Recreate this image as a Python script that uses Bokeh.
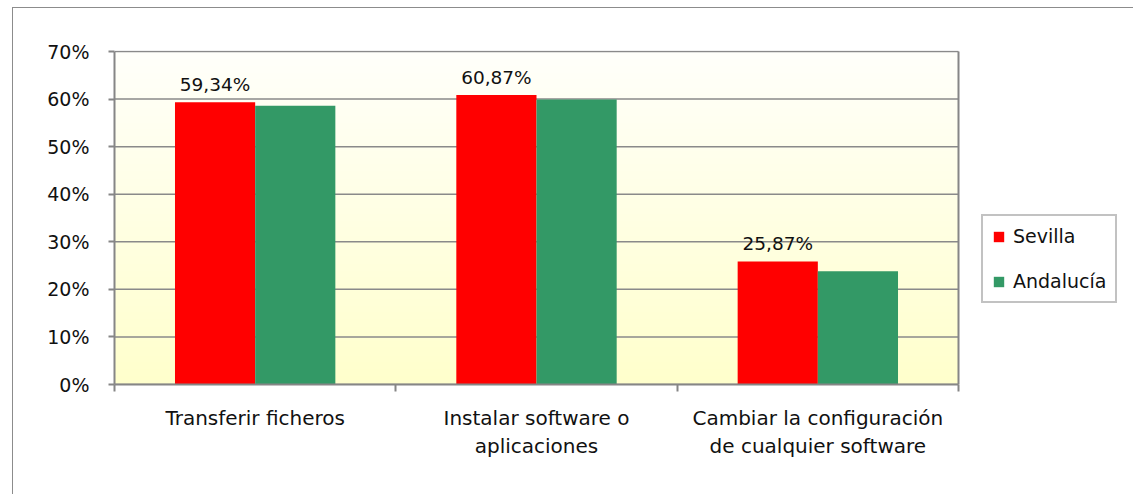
import numpy as np
from bokeh.plotting import figure
from bokeh.models import (ColumnDataSource, Range1d, FixedTicker, Legend, LegendItem, InlineStyleSheet)
from bokeh.core.properties import value
from bokeh.embed import file_html
from bokeh.resources import INLINE

categories = ["Transferir ficheros", "Instalar software o\naplicaciones",
              "Cambiar la configuración\nde cualquier software"]
sevilla = [59.34, 60.87, 25.87]
andalucia = [58.6, 59.9, 23.8]
sevilla_labels = ["59,34%", "60,87%", "25,87%"]
y_ticks = [0, 10, 20, 30, 40, 50, 60, 70]
y_tick_labels = ["0%", "10%", "20%", "30%", "40%", "50%", "60%", "70%"]

FONT = "DejaVu Sans"
W, H = 1117, 478
FL, FT, FB = 114, 50, 384
PLOT_R = 958                      # right edge of the plot area (px)
NCAT = len(categories)
YMAX = 70
x_end = NCAT * (W - FL) / (PLOT_R - FL)
y_end = YMAX * (FB - FT) / (FB - 51)

xc = np.arange(NCAT) + 0.5
bw = 0.285
src = ColumnDataSource(dict(
    xs=xc - bw / 2, xa=xc + bw / 2, sev=sevilla, anda=andalucia, lab=sevilla_labels))

p = figure(width=W, height=H, output_backend="svg", toolbar_location=None,
           x_range=Range1d(0, x_end), y_range=Range1d(0, y_end),
           min_border_left=FL, min_border_right=0,
           min_border_top=FT, min_border_bottom=H - FB)
p.background_fill_color = "white"
p.border_fill_color = "white"
p.outline_line_color = None
p.stylesheets = [InlineStyleSheet(css=(
    ":host::after{content:'';position:absolute;left:12px;top:7px;right:-20px;bottom:-20px;"
    "border-left:1.5px solid #8c8c8c;border-top:1.5px solid #8c8c8c;pointer-events:none;}"))]

# gradient plot-area background
n = 200
t = np.linspace(0, 1, n)
img = np.zeros((n, 1), dtype=np.uint32)
view = img.view(dtype=np.uint8).reshape((n, 1, 4))
view[:, 0, 0] = 255
view[:, 0, 1] = 255
view[:, 0, 2] = (204 + (251 - 204) * t).astype(np.uint8)
view[:, 0, 3] = 255
bg = p.image_rgba(image=[img], x=0, y=0, dw=NCAT, dh=YMAX)
bg.level = "image"

# gridlines + right border of plot area
p.segment(x0=0, x1=NCAT, y0=y_ticks, y1=y_ticks, line_color="#8a8a8a", line_width=1.5,
          level="underlay")
p.segment(x0=[NCAT], x1=[NCAT], y0=[0], y1=[YMAX], line_color="#868686", line_width=2,
          level="underlay")

r1 = p.vbar(x="xs", top="sev", width=bw, source=src, fill_color="#FF0000", line_color=None)
r2 = p.vbar(x="xa", top="anda", width=bw, source=src, fill_color="#339966", line_color=None)

p.text(x="xs", y="sev", text="lab", source=src, text_align="center", text_baseline="bottom",
       y_offset=-7, text_font=value(FONT), text_font_size="18.5px", text_color="#111111")

# axes
p.yaxis.ticker = FixedTicker(ticks=y_ticks)
p.yaxis.major_label_overrides = {t_: l for t_, l in zip(y_ticks, y_tick_labels)}
p.yaxis.bounds = (0, YMAX)
p.xaxis.ticker = FixedTicker(ticks=list(xc), minor_ticks=list(range(NCAT + 1)))
p.xaxis.major_label_overrides = {float(x): c for x, c in zip(xc, categories)}
p.xaxis.bounds = (0, NCAT)
for ax in (p.xaxis[0], p.yaxis[0]):
    ax.axis_line_color = "#868686"
    ax.axis_line_width = 2
    ax.major_tick_line_color = "#868686"
    ax.major_tick_line_width = 2
    ax.minor_tick_line_color = "#868686"
    ax.minor_tick_line_width = 2
    ax.major_label_text_font = FONT
    ax.major_label_text_font_size = "19px"
    ax.major_label_text_color = "#111111"
p.yaxis.major_tick_out = 6
p.yaxis.major_tick_in = 0
p.yaxis.minor_tick_line_color = None
p.yaxis.major_label_standoff = 19
p.xaxis.major_tick_out = 0
p.xaxis.major_tick_in = 0
p.xaxis.minor_tick_out = 7
p.xaxis.minor_tick_in = 0
p.xaxis.major_label_standoff = 14
p.xaxis.major_label_text_font_size = "20px"
p.xaxis.major_label_text_line_height = 1.2

p.xgrid.grid_line_color = None
p.ygrid.grid_line_color = None

legend = Legend(items=[LegendItem(label="Sevilla", renderers=[r1]),
                       LegendItem(label="Andalucía", renderers=[r2])],
                location=(867, 81))
legend.border_line_color = "#868686"
legend.border_line_width = 2
legend.background_fill_color = "white"
legend.background_fill_alpha = 1
legend.label_text_font = FONT
legend.label_text_font_size = "19px"
legend.label_text_color = "#111111"
legend.glyph_width = 13
legend.glyph_height = 13
legend.spacing = 23
legend.padding = 9
legend.margin = 0
legend.label_standoff = 8
p.add_layout(legend)

open("out.html", "w").write(file_html(p, INLINE))
